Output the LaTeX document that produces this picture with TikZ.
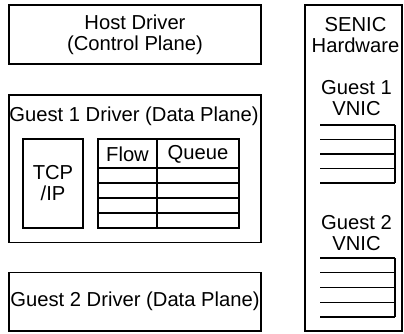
\documentclass[tikz,border=0pt]{standalone}
\usepackage{fontspec}
\setmainfont{Liberation Sans}
\begin{document}
\begin{tikzpicture}[x=1pt,y=-1pt,
  box/.style={draw, line width=1.4pt, inner sep=0pt, align=center},
  lbl/.style={inner sep=0pt, align=center},
  ln/.style={line width=1.4pt}]
\useasboundingbox (0,0) rectangle (404,333);
\tikzset{every node/.append style={font=\fontsize{20.2}{21}\selectfont}}
% Host driver
\node[box, minimum width=252pt, minimum height=59pt] (host) at (135,34.5) {Host Driver\\(Control Plane)};
% Guest 1 driver
\node[box, minimum width=252pt, minimum height=147.5pt] (g1) at (135,168.75) {};
\node[lbl] (g1t) at (134,116.5) {Guest 1 Driver (Data Plane)};
\node[box, minimum width=60pt, minimum height=89pt] (tcp) at (53,183.5) {TCP\\/IP};
% flow table
\node[box, minimum width=141pt, minimum height=89pt] (tab) at (168.5,183.5) {};
\draw[ln] (157,139) -- (157,228);
\foreach \y in {168,183,198,213} \draw[ln] (98,\y) -- (239,\y);
\node[lbl] (flow) at (127.5,154) {Flow};
\node[lbl] (queue) at (198,154) {Queue};
% Guest 2 driver
\node[box, minimum width=252pt, minimum height=58.5pt] (g2) at (135,301.75) {Guest 2 Driver (Data Plane)};
% SENIC hardware
\node[box, minimum width=97pt, minimum height=326pt] (senic) at (353.5,168) {};
\node[lbl] (st) at (355.5,35) {SENIC\\Hardware};
\node[lbl] (v1t) at (356.5,98) {Guest 1\\VNIC};
\node[lbl] (v2t) at (356.5,233) {Guest 2\\VNIC};
% VNIC 1 queue
\foreach \y in {125,139.5,154,168.5,183} \draw[ln] (320,\y) -- (395,\y);
\draw[ln] (395,125) -- (395,183);
% VNIC 2 queue
\foreach \y in {258,272.5,287.5,302.5,317} \draw[ln] (320,\y) -- (395,\y);
\draw[ln] (395,258) -- (395,317);
\end{tikzpicture}
\end{document}
